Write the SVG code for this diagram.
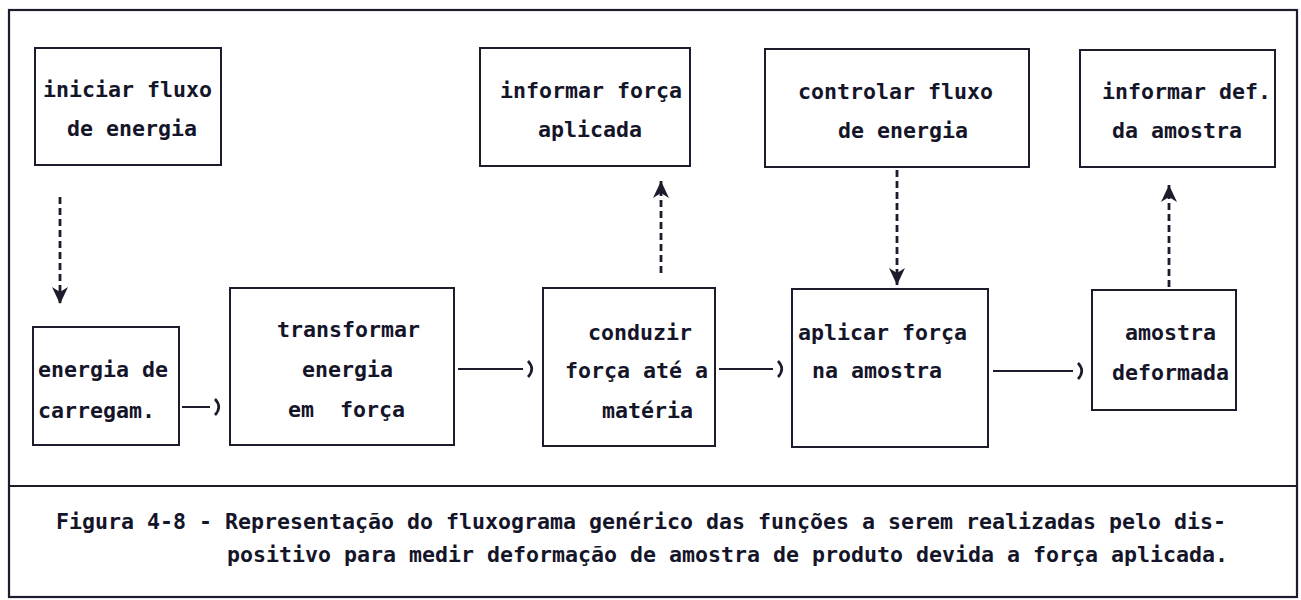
<svg xmlns="http://www.w3.org/2000/svg" width="1301" height="600" viewBox="0 0 1301 600">
  <style>
    .frame { fill: none; stroke: #1c1c2c; stroke-width: 2.2; }
    .box { fill: #ffffff; stroke: #1c1c2c; stroke-width: 2; }
    .t { font-family: "DejaVu Sans Mono", "Liberation Mono", monospace; font-size: 21.6px; font-weight: bold; fill: #15152a; }
    .solid { fill: none; stroke: #1c1c2c; stroke-width: 2; }
    .dash { fill: none; stroke: #1c1c2c; stroke-width: 2.8; stroke-dasharray: 7 4; }
  </style>
  <defs>
    <marker id="paren" viewBox="0 0 14 22" markerWidth="14" markerHeight="22" refX="0" refY="11" orient="auto" markerUnits="userSpaceOnUse">
      <path d="M5,3 Q12.5,11 5,19" fill="none" stroke="#1c1c2c" stroke-width="2.6"/>
    </marker>
    <marker id="head" viewBox="0 0 18 18" markerWidth="18" markerHeight="18" refX="17" refY="9" orient="auto" markerUnits="userSpaceOnUse">
      <path d="M0,1 L17,9 L0,17 L5,9 Z" fill="#1c1c2c"/>
    </marker>
  </defs>
  <rect x="0" y="0" width="1301" height="600" fill="#ffffff"/>
  <rect class="frame" x="9" y="10" width="1288" height="587"/>
  <line class="frame" x1="9" y1="486" x2="1297" y2="486"/>

  <g id="connectors">
    <line class="dash" x1="60" y1="197" x2="60" y2="304" marker-end="url(#head)"/>
    <line class="dash" x1="661" y1="273" x2="661" y2="181" marker-end="url(#head)"/>
    <line class="dash" x1="897" y1="170" x2="897" y2="285" marker-end="url(#head)"/>
    <line class="dash" x1="1169" y1="287" x2="1169" y2="185" marker-end="url(#head)"/>
    <line class="solid" x1="182" y1="407" x2="210" y2="407" marker-end="url(#paren)"/>
    <line class="solid" x1="458" y1="369" x2="523" y2="369" marker-end="url(#paren)"/>
    <line class="solid" x1="719" y1="369" x2="773" y2="369" marker-end="url(#paren)"/>
    <line class="solid" x1="993" y1="371" x2="1073" y2="371" marker-end="url(#paren)"/>
  </g>

  <g id="n-iniciar">
    <rect class="box" x="35" y="48" width="186" height="117"/>
    <text class="t" x="43" y="97">iniciar fluxo</text>
    <text class="t" x="67" y="136">de energia</text>
  </g>
  <g id="n-informar-forca">
    <rect class="box" x="480" y="48" width="210" height="118"/>
    <text class="t" x="500" y="98">informar força</text>
    <text class="t" x="538" y="137">aplicada</text>
  </g>
  <g id="n-controlar">
    <rect class="box" x="765" y="49" width="264" height="118"/>
    <text class="t" x="798" y="99">controlar fluxo</text>
    <text class="t" x="838" y="138">de energia</text>
  </g>
  <g id="n-informar-def">
    <rect class="box" x="1080" y="50" width="195" height="117"/>
    <text class="t" x="1102" y="99">informar def.</text>
    <text class="t" x="1112" y="138">da amostra</text>
  </g>
  <g id="n-energia">
    <rect class="box" x="33" y="327" width="146" height="118"/>
    <text class="t" x="38" y="377">energia de</text>
    <text class="t" x="38" y="418">carregam.</text>
  </g>
  <g id="n-transformar">
    <rect class="box" x="230" y="288" width="224" height="157"/>
    <text class="t" x="277" y="337">transformar</text>
    <text class="t" x="302" y="377">energia</text>
    <text class="t" x="288" y="417" xml:space="preserve">em  força</text>
  </g>
  <g id="n-conduzir">
    <rect class="box" x="543" y="288" width="172" height="158"/>
    <text class="t" x="588" y="340">conduzir</text>
    <text class="t" x="565" y="378">força até a</text>
    <text class="t" x="602" y="418">matéria</text>
  </g>
  <g id="n-aplicar">
    <rect class="box" x="792" y="289" width="196" height="158"/>
    <text class="t" x="798" y="340">aplicar força</text>
    <text class="t" x="812" y="378">na amostra</text>
  </g>
  <g id="n-amostra">
    <rect class="box" x="1092" y="290" width="144" height="120"/>
    <text class="t" x="1125" y="340">amostra</text>
    <text class="t" x="1112" y="380">deformada</text>
  </g>

  <g id="caption">
    <text class="t" x="56" y="529">Figura 4-8 - Representação do fluxograma genérico das funções a serem realizadas pelo dis-</text>
    <text class="t" x="227" y="562">positivo para medir deformação de amostra de produto devida a força aplicada.</text>
  </g>
</svg>
